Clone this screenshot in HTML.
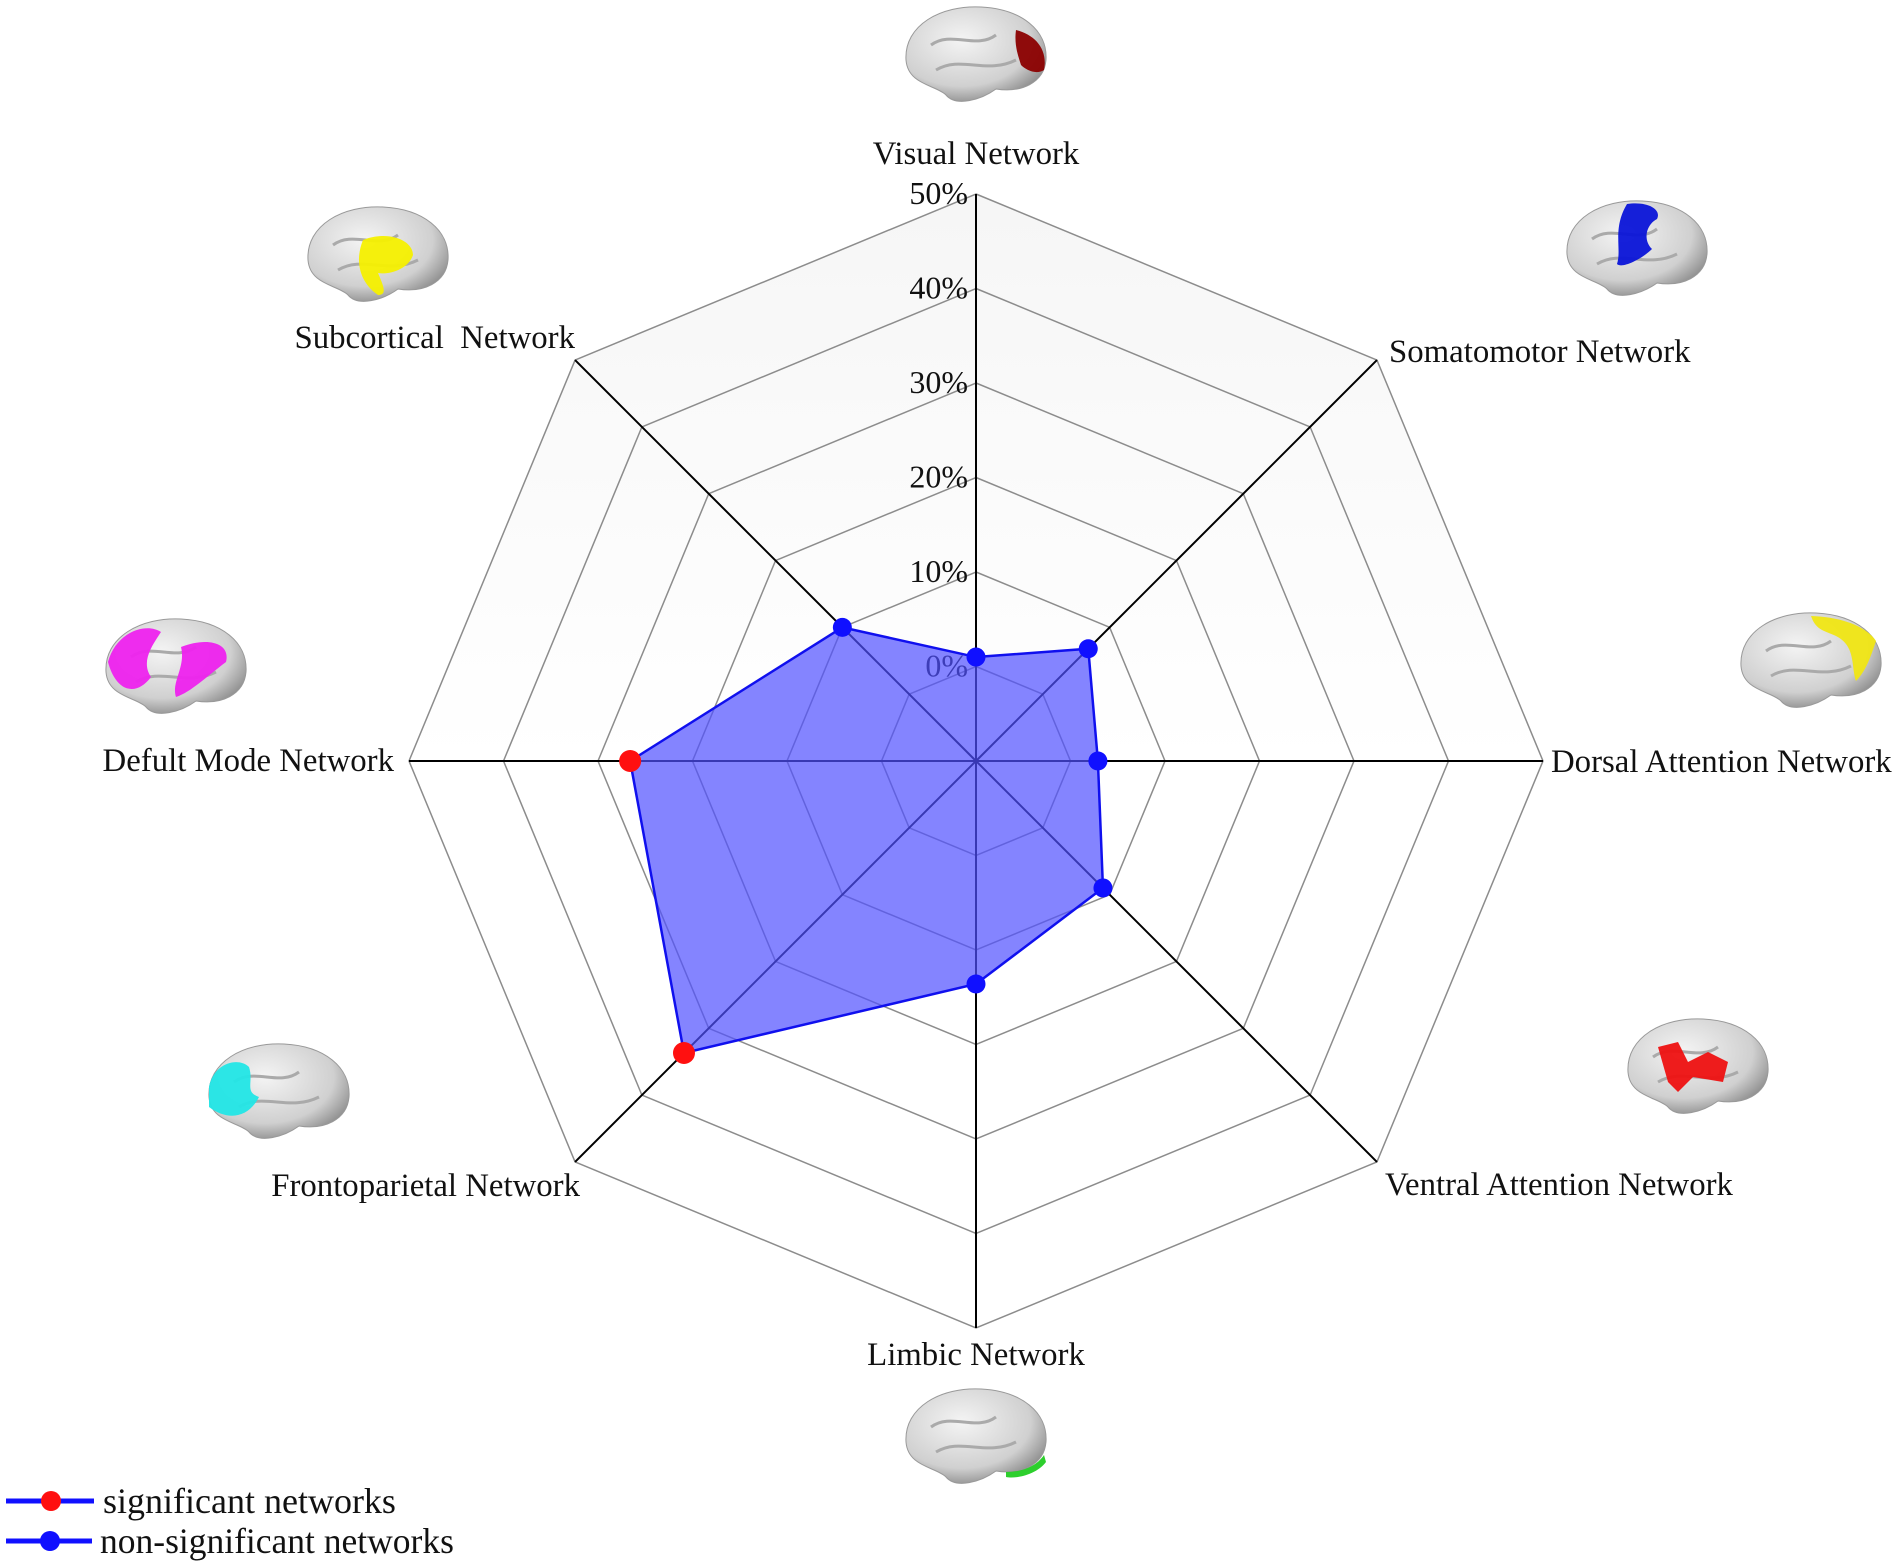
<!DOCTYPE html>
<html><head><meta charset="utf-8"><style>
html,body{margin:0;padding:0;background:#fff;}
svg{display:block;font-family:"Liberation Serif",serif;}
</style></head><body>
<svg id="chart" width="1902" height="1568" viewBox="0 0 1902 1568" xmlns="http://www.w3.org/2000/svg">
<defs>
<linearGradient id="bg" x1="0" y1="0" x2="0" y2="1">
<stop offset="0" stop-color="#f6f6f6"/><stop offset="0.5" stop-color="#ffffff"/>
</linearGradient>
<radialGradient id="brainG" cx="0.4" cy="0.35" r="0.7">
<stop offset="0" stop-color="#f4f4f4"/><stop offset="0.7" stop-color="#d0d0d0"/><stop offset="1" stop-color="#8a8a8a"/>
</radialGradient>
</defs>
<g id="grid"></g>
<g id="series"></g>
<g id="labels"></g>
<g id="brains"></g>
<g>
<g>
<line x1="6" y1="1501" x2="94" y2="1501" stroke="#1010ff" stroke-width="5"/>
<circle cx="51" cy="1501" r="10" fill="#ff1010"/>
<text x="103" y="1513" font-size="36" fill="#111">significant networks</text>
</g>
<g>
<line x1="6" y1="1541" x2="92" y2="1541" stroke="#1010ff" stroke-width="5"/>
<circle cx="50" cy="1541" r="10" fill="#1010ff"/>
<text x="100" y="1553" font-size="35.5" fill="#111">non-significant networks</text>
</g>
</g>
</svg>
<script>
const categories = ["Visual Network","Somatomotor Network","Dorsal Attention Network","Ventral Attention Network","Limbic Network","Frontoparietal Network","Defult Mode Network","Subcortical  Network"];
const values = [1.0, 6.8, 2.9, 9.0, 13.6, 33.7, 26.6, 10.0];
const significant = [false,false,false,false,false,true,true,false];
const tickValues = [0,10,20,30,40,50];
const tickLabels = ["0%","10%","20%","30%","40%","50%"];
const brainColors = ["#8b0000","#0a14d8","#f0e614","#ee1111","#22cc22","#22e6e6","#ee22ee","#f5f000"];

const NS="http://www.w3.org/2000/svg";
const cx=976, cy=761, R=567, minV=-10, maxV=50;
function rScale(v){return (v-minV)/(maxV-minV)*R;}
function pt(i,v){const a=-Math.PI/2+i*2*Math.PI/categories.length;const r=rScale(v);return [cx+r*Math.cos(a),cy+r*Math.sin(a)];}
function mk(tag,attrs,parent){const e=document.createElementNS(NS,tag);for(const k in attrs)e.setAttribute(k,attrs[k]);parent.appendChild(e);return e;}
const grid=document.getElementById('grid');
const outer=categories.map((c,i)=>pt(i,maxV).join(',')).join(' ');
const bgp=mk('polygon',{points:outer,fill:'url(#bg)',stroke:'none'},grid);


tickValues.forEach((t,k)=>{
  const p=mk('polygon',{points:categories.map((c,i)=>pt(i,t).join(',')).join(' '),fill:'none',stroke:'#8c8c8c','stroke-width':1.5},grid);
  
  
});
categories.forEach((c,i)=>{
  const [x,y]=pt(i,maxV);
  const l=mk('line',{x1:cx,y1:cy,x2:x,y2:y,stroke:'#000','stroke-width':2},grid);
  
  
});
tickValues.forEach((t,k)=>{
  const y=cy-rScale(t);
  const tx=mk('text',{x:cx-8,y:y+10,'font-size':32,'text-anchor':'end',fill:'#111'},grid);
  tx.textContent=tickLabels[k];
  
  
});
const series=document.getElementById('series');
const poly=mk('polygon',{points:values.map((v,i)=>pt(i,v).join(',')).join(' '),fill:'rgba(80,80,255,0.7)',stroke:'#1010ee','stroke-width':2.5},series);


values.forEach((v,i)=>{
  const [x,y]=pt(i,v);
  const c=mk('circle',{cx:x,cy:y,r:significant[i]?11:9.5,fill:significant[i]?'#ff1010':'#1010ff'},series);
  
  
});
const labelPos=[[976,164,'middle'],[1389,362,'start'],[1551,772,'start'],[1385,1195,'start'],[976,1365,'middle'],[580,1196,'end'],[394,771,'end'],[575,348,'end']];
const labels=document.getElementById('labels');
categories.forEach((c,i)=>{
  const [x,y,a]=labelPos[i];
  const t=mk('text',{x:x,y:y,'font-size':32.8,'text-anchor':a,fill:'#111'},labels);
  t.setAttribute('style','white-space:pre');
  t.textContent=c;
  
  
});
const brainPos=[[976,55],[1637,249],[1811,661],[1698,1067],[976,1437],[279,1092],[176,667],[378,255]];
const brains=document.getElementById('brains');
brainPos.forEach((p,i)=>{
  const g=mk('g',{transform:`translate(${p[0]},${p[1]})`},brains);
  
  
  mk('path',{d:'M-70,5 C-72,-30 -35,-50 5,-48 C45,-46 72,-25 70,5 C68,28 45,38 20,34 C5,45 -20,52 -30,40 C-40,30 -68,30 -70,5 Z',fill:'url(#brainG)',stroke:'#999','stroke-width':1},g);
  mk('path',{d:'M-45,-10 C-25,-25 0,-5 20,-20 M-40,15 C-15,0 10,20 40,5',fill:'none',stroke:'#aaa','stroke-width':3},g);
  const col=brainColors[i];
  const patches=[
   'M40,-25 C60,-20 72,-5 68,15 C60,20 50,15 45,10 C42,0 38,-10 40,-25 Z',
   'M-10,-45 C10,-48 25,-40 20,-30 C10,-25 5,-10 15,0 C5,10 -15,20 -20,15 C-15,0 -25,-20 -10,-45 Z',
   'M0,-45 C30,-44 55,-35 65,-20 C60,-5 55,10 45,20 C40,5 45,-15 25,-25 C15,-30 5,-30 0,-45 Z',
   'M-40,-20 L-20,-25 L-10,-5 L10,-15 L30,-5 L25,15 L-5,10 L-20,25 L-30,15 Z',
   'M30,35 C45,35 60,30 68,18 L70,25 C60,38 40,42 30,40 Z',
   'M-70,-5 C-65,-30 -40,-35 -30,-25 C-25,-10 -35,0 -20,5 C-30,25 -50,30 -70,15 Z',
   'M-68,-5 C-60,-35 -30,-45 -15,-35 C-25,-20 -35,-5 -25,10 C-40,30 -60,25 -68,-5 Z M5,-20 C30,-30 55,-25 50,-5 C30,10 15,25 0,30 C-5,15 10,0 5,-20 Z',
   'M-15,-15 C10,-25 35,-15 35,0 C30,15 10,20 0,18 C5,30 10,40 0,40 C-15,30 -25,10 -15,-15 Z'
  ];
  mk('path',{d:patches[i],fill:col,opacity:0.95},g);
});
</script>
</body></html>
